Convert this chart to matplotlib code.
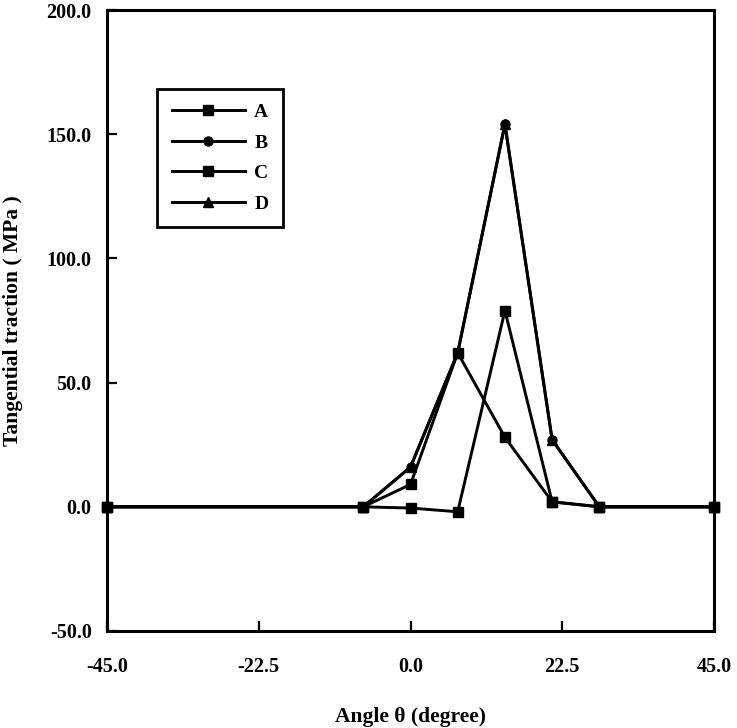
import matplotlib
matplotlib.use("Agg")
import matplotlib.pyplot as plt

# -------------------------------
# DATA
# -------------------------------
angle = [-45.0, -7.0, 0.0, 7.0, 14.0, 21.0, 28.0, 45.0]

series_a = [0.0, 0.0, 9.0, 62.0, 28.0, 2.0, 0.0, 0.0]
series_b = [0.0, 0.0, 16.0, 62.0, 154.0, 27.0, 0.0, 0.0]
series_c = [0.0, 0.0, -0.5, -2.0, 79.0, 2.0, 0.0, 0.0]
series_d = [0.0, 0.0, 16.0, 62.0, 154.0, 27.0, 0.0, 0.0]

labels = ["A", "B", "C", "D"]
markers = ["s", "o", "s", "^"]

x_ticks = [-45.0, -22.5, 0.0, 22.5, 45.0]
y_ticks = [-50.0, 0.0, 50.0, 100.0, 150.0, 200.0]

# -------------------------------
# PLOT
# -------------------------------
plt.rcParams["font.family"] = ["Liberation Serif", "DejaVu Serif"]
plt.rcParams["font.weight"] = "bold"

fig = plt.figure(figsize=(7.37, 7.28), dpi=100)
ax = fig.add_axes([107 / 737, 1 - 631 / 728, 607 / 737, 621 / 728])

for ys, lab, mk in zip([series_a, series_b, series_c, series_d], labels, markers):
    ax.plot(angle, ys, color="black", linewidth=2.1, marker=mk,
            markersize=6.5, label=lab, clip_on=False)

ax.set_xlim(-45, 45)
ax.set_ylim(-50, 200)
ax.set_xticks(x_ticks)
ax.set_yticks(y_ticks)
ax.set_xticklabels([f"{v:.1f}" for v in x_ticks])
ax.set_yticklabels([f"{v:.1f}" for v in y_ticks])

ax.tick_params(direction="in", length=7, width=1.6, labelsize=14.5)
ax.tick_params(axis="x", pad=19)
ax.tick_params(axis="y", pad=11)
for lab in ax.get_xticklabels() + ax.get_yticklabels():
    lab.set_fontweight("bold")

for s in ax.spines.values():
    s.set_linewidth(2.2)

ax.set_xlabel("Angle θ (degree)", fontsize=15.5, fontweight="bold", labelpad=21)
ax.set_ylabel("Tangential traction ( MPa )", fontsize=15.5, fontweight="bold", labelpad=17)

leg = ax.legend(loc="upper left", bbox_to_anchor=(0.082, 0.873), fancybox=False,
                edgecolor="black", framealpha=1, fontsize=14, handlelength=3.8,
                handletextpad=0.45, borderpad=0.76, labelspacing=0.66, borderaxespad=0)
leg.get_frame().set_linewidth(2.0)
for t in leg.get_texts():
    t.set_fontweight("bold")

plt.savefig("out.png", dpi=100)
print("saved out.png")
